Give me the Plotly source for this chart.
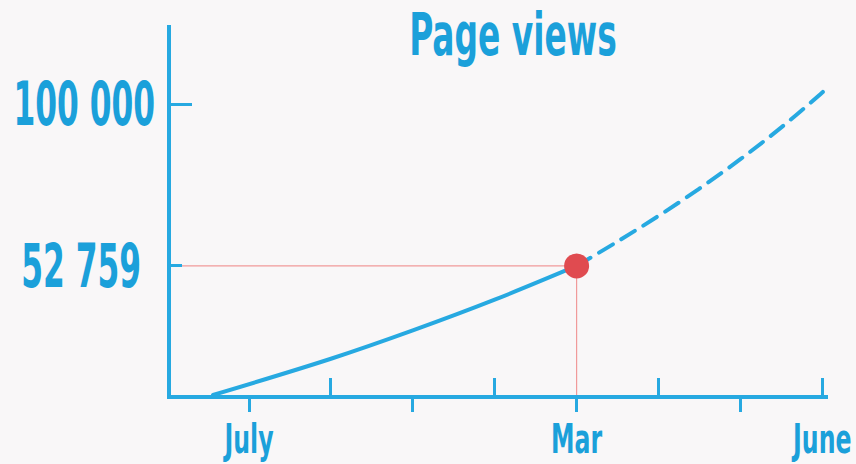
import plotly.graph_objects as go

# ---- data ----
tick_positions_below = [0, 2, 4, 6]
tick_positions_above = [1, 3, 5, 7]
x_label_vals = [0, 4, 7]
x_labels = ["July", "Mar", "June"]

actual_x = [-0.44, 1, 2, 3, 4]
actual_y = [15000, 25600, 33900, 42900, 52759]
proj_x = [4, 4.5, 5, 5.5, 6, 6.5, 7, 7.03]
proj_y = [52759, 59900, 67400, 75400, 84000, 93300, 103500, 104200]

highlight_x = 4
highlight_y = 52759
y_tick_top = [100000]
y_tick_top_text = ["100 000"]
y_tick_mid = [52759]
y_tick_mid_text = ["52 759"]

x_range = [-0.953, 7.07]
y_range = [15000, 123250]

BLUE = "#27a9e1"
TEXT = "#1ba0da"
RED = "#e04b50"
PINK = "#f19a9a"
BG = "#f9f7f8"
FONT = "DejaVu Sans Condensed, Roboto Condensed, Liberation Sans Narrow, Roboto"

fig = go.Figure()

# reference lines
fig.add_trace(go.Scatter(x=[x_range[0], highlight_x], y=[highlight_y, highlight_y],
                         mode="lines", line=dict(color=PINK, width=1.2),
                         hoverinfo="skip", showlegend=False))
fig.add_trace(go.Scatter(x=[highlight_x, highlight_x], y=[y_range[0], highlight_y],
                         mode="lines", line=dict(color=PINK, width=1.2),
                         hoverinfo="skip", showlegend=False))

fig.add_trace(go.Scatter(x=actual_x, y=actual_y, mode="lines",
                         line=dict(color=BLUE, width=4, shape="spline"),
                         showlegend=False))
fig.add_trace(go.Scatter(x=proj_x, y=proj_y, mode="lines",
                         line=dict(color=BLUE, width=4, shape="spline", dash="16px,10px"),
                         showlegend=False))
fig.add_trace(go.Scatter(x=[highlight_x], y=[highlight_y], mode="markers",
                         marker=dict(color=RED, size=25), showlegend=False))

fig.update_layout(
    width=856, height=464,
    margin=dict(l=171, r=28, t=25, b=69, autoexpand=False),
    paper_bgcolor=BG, plot_bgcolor=BG,
    title=dict(text="Page views", x=0.5205, xref="paper", y=1 - 34 / 464,
               yref="container", xanchor="center", yanchor="middle",
               font=dict(family=FONT, size=59, color=TEXT, weight="bold")),
    xaxis=dict(range=x_range, showgrid=False, zeroline=False, automargin=False,
               showline=True, linecolor=BLUE, linewidth=4,
               tickmode="array", tickvals=tick_positions_below,
               ticktext=["" for _ in tick_positions_below],
               ticks="outside", ticklen=13, tickwidth=3, tickcolor=BLUE),
    xaxis2=dict(range=x_range, overlaying="x", side="bottom", showgrid=False,
                zeroline=False, showline=False, automargin=False,
                tickmode="array", tickvals=tick_positions_above,
                ticktext=["" for _ in tick_positions_above],
                ticks="inside", ticklen=17, tickwidth=3, tickcolor=BLUE),
    xaxis3=dict(range=x_range, overlaying="x", side="bottom", showgrid=False,
                zeroline=False, showline=False, automargin=False,
                tickmode="array", tickvals=x_label_vals, ticktext=x_labels,
                ticks="", ticklabelstandoff=16, ticklabeloverflow="allow",
                tickfont=dict(family=FONT, size=41, color=TEXT, weight="bold")),
    yaxis=dict(range=y_range, showgrid=False, zeroline=False, automargin=False,
               showline=True, linecolor=BLUE, linewidth=4,
               tickmode="array", tickvals=y_tick_top, ticktext=y_tick_top_text,
               ticks="inside", ticklen=21, tickwidth=3, tickcolor=BLUE,
               ticklabelstandoff=0, ticklabeloverflow="allow",
               tickfont=dict(family=FONT, size=60, color=TEXT, weight="bold")),
    yaxis2=dict(range=y_range, overlaying="y", side="left", showgrid=False,
                zeroline=False, showline=False, automargin=False,
                tickmode="array", tickvals=y_tick_mid, ticktext=y_tick_mid_text,
                ticks="inside", ticklen=11, tickwidth=3, tickcolor=BLUE,
                ticklabelstandoff=29, ticklabeloverflow="allow",
                tickfont=dict(family=FONT, size=60, color=TEXT, weight="bold")),
)

# dummy traces to activate overlay axes
fig.add_trace(go.Scatter(x=[None], y=[None], xaxis="x2", yaxis="y2", showlegend=False))
fig.add_trace(go.Scatter(x=[None], y=[None], xaxis="x3", yaxis="y", showlegend=False))

post_js = r"""
document.body.style.margin = '0';
var S = {title: 0.62, y: 0.58, x: 0.64};
document.querySelectorAll('.main-svg text').forEach(function (t) {
  var g = t.parentNode;
  var cls = ((g && g.getAttribute && g.getAttribute('class')) || '') + ' ' + (t.getAttribute('class') || '');
  var s = null;
  if (cls.indexOf('gtitle') >= 0) s = S.title;
  else if (/\by\d*tick\b/.test(cls)) s = S.y;
  else if (/\bx\d*tick\b/.test(cls)) s = S.x;
  if (s === null) return;
  var x = parseFloat(t.getAttribute('x') || '0');
  var tr = t.getAttribute('transform') || '';
  t.setAttribute('transform', tr + ' translate(' + x + ',0) scale(' + s + ',1) translate(' + (-x) + ',0)');
});
document.querySelectorAll('.main-svg .scatterlayer path.js-line').forEach(function (p) {
  p.style.strokeLinecap = 'round';
});
"""

fig.write_html("out.html", config={"displayModeBar": False}, post_script=post_js)
